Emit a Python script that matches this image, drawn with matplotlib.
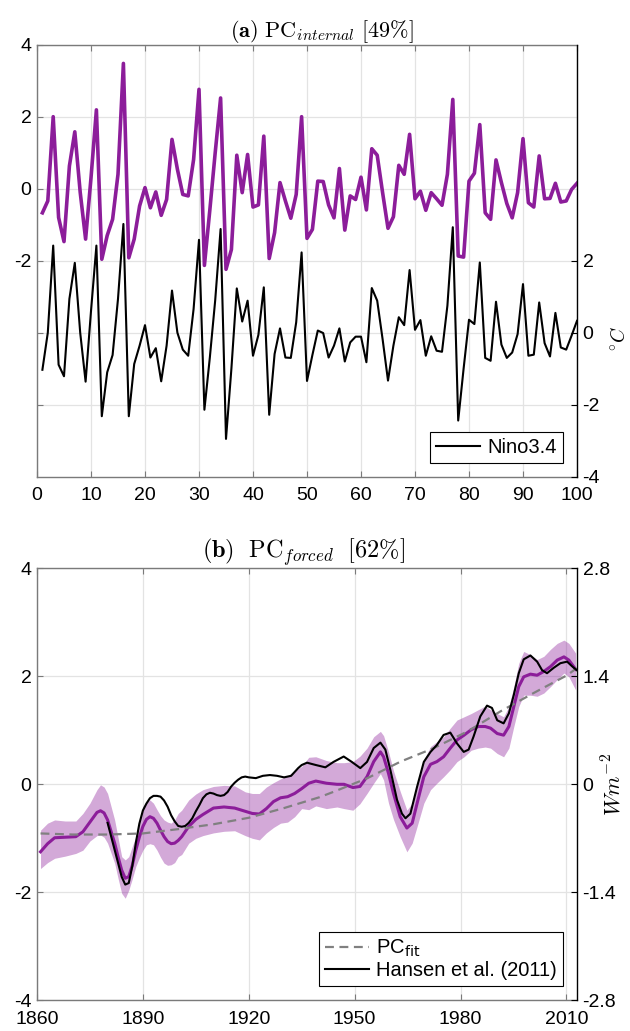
import matplotlib
matplotlib.use("Agg")
import matplotlib.pyplot as plt
from matplotlib.font_manager import FontProperties
import numpy as np

plt.rcParams['font.family'] = ['Liberation Sans', 'DejaVu Sans']
plt.rcParams['axes.unicode_minus'] = False

# ---------------- Panel (a) data ----------------
years_a = list(range(1, 101))
pc_internal = [-0.67, -0.34, 2.0, -0.8, -1.47, 0.63, 1.58, -0.1, -1.4, 0.3,
               2.19, -1.96, -1.3, -0.85, 0.4, 3.48, -1.92, -1.4, -0.48, 0.03,
               -0.53, -0.09, -0.74, -0.3, 1.37, 0.54, -0.16, -0.2, 0.81, 2.76,
               -2.13, -0.6, 1.0, 2.52, -2.24, -1.69, 0.93, -0.11, 0.95, -0.51,
               -0.45, 1.46, -1.94, -1.22, 0.17, -0.34, -0.82, -0.16, 2.0, -1.38,
               -1.13, 0.21, 0.2, -0.45, -0.81, 0.56, -1.15, -0.2, -0.3, 0.32,
               -0.59, 1.11, 0.93, -0.11, -1.1, -0.78, 0.65, 0.4, 1.51, -0.28,
               -0.07, -0.6, -0.11, -0.28, -0.46, 0.4, 2.48, -1.87, -1.9, 0.21,
               0.43, 1.78, -0.67, -0.85, 0.8, 0.17, -0.41, -0.81, -0.11, 1.39,
               -0.39, -0.51, 0.91, -0.28, -0.27, 0.15, -0.37, -0.34, -0.02, 0.15]
nino34 = [-1.03, 0.0, 2.42, -0.89, -1.21, 0.94, 1.94, 0.0, -1.36, 0.6,
          2.42, -2.32, -1.1, -0.62, 0.94, 3.02, -2.32, -0.87, -0.36, 0.21,
          -0.69, -0.43, -1.35, -0.36, 1.17, 0.0, -0.47, -0.64, 0.66, 2.58,
          -2.14, -0.7, 0.9, 2.88, -2.95, -1.0, 1.23, 0.31, 0.89, -0.64,
          -0.06, 1.26, -2.28, -0.59, 0.12, -0.69, -0.7, 0.29, 2.23, -1.34,
          -0.62, 0.06, -0.01, -0.69, -0.36, 0.12, -0.8, -0.27, -0.11, -0.11,
          -0.82, 1.24, 0.89, -0.18, -1.33, -0.36, 0.43, 0.21, 1.74, 0.08,
          0.35, -0.64, -0.1, -0.5, -0.53, 0.75, 2.93, -2.44, -1.0, 0.36,
          0.24, 1.95, -0.7, -0.78, 0.86, -0.33, -0.7, -0.55, -0.04, 1.35,
          -0.64, -0.61, 0.84, -0.29, -0.66, 0.55, -0.41, -0.47, -0.08, 0.33]
xticks_a = [0, 10, 20, 30, 40, 50, 60, 70, 80, 90, 100]
yticks_a_left = [-2, 0, 2, 4]
yticks_a_right = [-4, -2, 0, 2]

# ---------------- Panel (b) data ----------------
years_b = [1861, 1863, 1865, 1868, 1871, 1873, 1875, 1877, 1878, 1879,
           1880, 1882, 1883, 1884, 1885, 1886, 1887, 1888, 1889, 1890,
           1891, 1892, 1893, 1894, 1895, 1896, 1897, 1898, 1899, 1900,
           1901, 1903, 1905, 1907, 1910, 1913, 1916, 1919, 1921, 1923,
           1925, 1927, 1929, 1931, 1933, 1935, 1937, 1939, 1942, 1945,
           1947, 1949.5, 1951.5, 1953.5, 1955.4, 1957.3, 1958.2, 1959.6, 1961, 1962.9,
           1964.8, 1966.3, 1967.7, 1969.6, 1971.5, 1973.3, 1975.2, 1977.1, 1979, 1981,
           1983, 1985, 1987, 1988.5, 1990.4, 1992.2, 1993.7, 1995.1, 1996.5, 1997.9,
           1999.8, 2001.7, 2003.6, 2005.5, 2007.4, 2009.3, 2010.7, 2012.6]
pc_forced = [-1.25, -1.1, -0.99, -0.98, -0.97, -0.88, -0.7, -0.52, -0.49, -0.53,
             -0.66, -1.09, -1.35, -1.59, -1.74, -1.71, -1.5, -1.22, -0.98, -0.78,
             -0.65, -0.6, -0.63, -0.72, -0.85, -0.97, -1.06, -1.1, -1.09, -1.04,
             -0.97, -0.78, -0.65, -0.56, -0.44, -0.42, -0.44, -0.5, -0.54, -0.55,
             -0.45, -0.32, -0.25, -0.23, -0.17, -0.08, 0.02, 0.06, 0.02, 0.0,
             0.0, -0.06, -0.04, 0.14, 0.42, 0.6, 0.51, 0.2, -0.17, -0.6,
             -0.81, -0.72, -0.35, 0.14, 0.37, 0.42, 0.51, 0.67, 0.82, 0.91,
             1.01, 1.07, 1.07, 1.04, 0.94, 0.91, 1.07, 1.44, 1.81, 1.99,
             2.04, 2.02, 2.09, 2.18, 2.3, 2.36, 2.3, 2.13]
pc_upper = [-0.85, -0.72, -0.66, -0.68, -0.68, -0.54, -0.35, -0.1, -0.01, -0.05,
            -0.17, -0.66, -1.0, -1.34, -1.4, -1.34, -1.15, -0.97, -0.7, -0.41,
            -0.33, -0.29, -0.35, -0.47, -0.58, -0.66, -0.7, -0.72, -0.66, -0.54,
            -0.48, -0.29, -0.18, -0.1, -0.04, -0.02, -0.03, -0.14, -0.17, -0.17,
            -0.05, 0.03, 0.1, 0.16, 0.25, 0.33, 0.5, 0.51, 0.44, 0.4,
            0.4, 0.42, 0.52, 0.67, 0.88, 0.98, 0.9, 0.6, 0.25, -0.13,
            -0.48, -0.35, 0.02, 0.45, 0.7, 0.79, 0.88, 1.04, 1.19, 1.25,
            1.31, 1.38, 1.45, 1.38, 1.31, 1.25, 1.44, 1.81, 2.24, 2.46,
            2.4, 2.31, 2.37, 2.5, 2.61, 2.67, 2.61, 2.43]
pc_lower = [-1.56, -1.45, -1.37, -1.33, -1.28, -1.22, -1.05, -0.95, -0.94, -0.98,
            -1.09, -1.46, -1.75, -2.02, -2.11, -1.96, -1.75, -1.52, -1.36, -1.22,
            -1.12, -1.1, -1.12, -1.22, -1.35, -1.46, -1.5, -1.49, -1.45, -1.34,
            -1.3, -1.09, -1.0, -0.95, -0.9, -0.87, -0.86, -0.95, -1.0, -1.03,
            -0.9, -0.8, -0.72, -0.7, -0.6, -0.45, -0.47, -0.4, -0.45, -0.42,
            -0.45, -0.48, -0.36, -0.17, 0.02, 0.2, 0.08, -0.35, -0.65, -0.97,
            -1.25, -1.09, -0.78, -0.35, -0.1, 0.02, 0.14, 0.27, 0.42, 0.51,
            0.63, 0.67, 0.69, 0.67, 0.57, 0.51, 0.67, 1.07, 1.44, 1.65,
            1.65, 1.63, 1.69, 1.81, 1.94, 2.06, 1.99, 1.75]

years_fit = [1861, 1870, 1880, 1890, 1900, 1910, 1920, 1925, 1930, 1935,
             1940, 1944, 1953.5, 1963, 1972.4, 1982, 1991.3, 2000.7, 2010.2, 2012.9]
pc_fit = [-0.91, -0.93, -0.93, -0.91, -0.83, -0.74, -0.62, -0.53, -0.44, -0.34,
          -0.24, -0.14, 0.11, 0.42, 0.67, 0.98, 1.35, 1.69, 2.02, 2.15]

years_hansen = [1880, 1882, 1884, 1885, 1886, 1887, 1888, 1889, 1890, 1891,
                1892, 1893, 1894, 1895, 1896, 1897, 1898, 1899, 1900, 1901,
                1902, 1903, 1904, 1905, 1906, 1907, 1908, 1909, 1910, 1911,
                1912, 1913, 1914, 1915, 1916, 1917, 1918, 1919, 1920, 1922,
                1924, 1926, 1928, 1930, 1932, 1934, 1935, 1936.5, 1939, 1941.7,
                1944, 1946.9, 1949.2, 1951.6, 1953.5, 1955.4, 1957.3, 1958.7, 1960.1, 1962,
                1963.4, 1964.4, 1965.8, 1967.7, 1969.6, 1971.5, 1973.3, 1975.2, 1977.1, 1979,
                1980.9, 1982.3, 1983.7, 1985.6, 1987.5, 1988.9, 1990.4, 1992.2, 1993.7, 1995.1,
                1996.5, 1997.9, 1999.8, 2001.7, 2003.1, 2004.5, 2006.4, 2008.3, 2010.2, 2011.6,
                2012.9]
hansen_forcing = [-0.50, -0.85, -1.20, -1.30, -1.28, -1.06, -0.76, -0.51, -0.34, -0.25,
                  -0.18, -0.15, -0.15, -0.16, -0.21, -0.29, -0.40, -0.48, -0.54, -0.55,
                  -0.54, -0.50, -0.44, -0.35, -0.27, -0.18, -0.13, -0.11, -0.12, -0.14,
                  -0.15, -0.14, -0.10, -0.03, 0.02, 0.06, 0.09, 0.10, 0.09, 0.08,
                  0.11, 0.12, 0.11, 0.09, 0.11, 0.21, 0.25, 0.28, 0.25, 0.22,
                  0.29, 0.36, 0.29, 0.21, 0.29, 0.47, 0.54, 0.45, 0.19, -0.20,
                  -0.38, -0.44, -0.38, -0.03, 0.29, 0.42, 0.51, 0.64, 0.67, 0.53,
                  0.42, 0.45, 0.62, 0.88, 1.02, 0.99, 0.83, 0.79, 0.92, 1.16,
                  1.44, 1.62, 1.67, 1.59, 1.48, 1.44, 1.51, 1.57, 1.59, 1.53,
                  1.48]
xticks_b = [1860, 1890, 1920, 1950, 1980, 2010]
yticks_b_left = [-4, -2, 0, 2, 4]
yticks_b_right = [-2.8, -1.4, 0, 1.4, 2.8]

# ---------------- Style ----------------
PURPLE = '#8C1D9A'
SPINE_GRAY = '#7a7a7a'
TICK_FS = 14
W, H = 630, 1031

fig = plt.figure(figsize=(W / 100, H / 100), dpi=100)


def style_axes(ax, axr):
    for sp in ['left', 'top', 'bottom']:
        ax.spines[sp].set_color(SPINE_GRAY)
        ax.spines[sp].set_linewidth(1.0)
    ax.spines['right'].set_visible(False)
    for sp in ['left', 'top', 'bottom']:
        axr.spines[sp].set_visible(False)
    axr.spines['right'].set_color('black')
    axr.spines['right'].set_linewidth(1.0)
    ax.tick_params(axis='both', direction='in', length=4, width=0.8,
                   labelsize=TICK_FS, colors=SPINE_GRAY, labelcolor='black',
                   top=True, pad=4)
    ax.tick_params(axis='x', pad=7.5)
    axr.tick_params(axis='y', direction='in', length=4, width=0.8,
                    labelsize=TICK_FS, colors='black', pad=4)
    ax.grid(True, color='#e3e3e3', linewidth=0.9)
    ax.set_axisbelow(True)


title_a_fp = FontProperties(family='DejaVu Serif', size=16, math_fontfamily='cm')
title_b_fp = FontProperties(family='DejaVu Serif', size=17.5, math_fontfamily='cm')
label_c_fp = FontProperties(family='DejaVu Serif', size=14, math_fontfamily='cm')
label_w_fp = FontProperties(family='DejaVu Serif', size=16, math_fontfamily='cm')
leg_fp = FontProperties(family=['Liberation Sans', 'DejaVu Sans'], size=14.5,
                        math_fontfamily='dejavusans')

# ---------------- Panel (a) ----------------
ax1 = fig.add_axes([37 / W, (H - 476.7) / H, 540 / W, 432 / H])
ax1.plot(years_a, pc_internal, color=PURPLE, lw=2.6, zorder=3)
ax1.set_xlim(0, 100)
ax1.set_ylim(-8, 4)
ax1.set_xticks(xticks_a)
ax1.set_yticks([-6, -4] + yticks_a_left)
ax1.set_yticklabels(['', ''] + [str(v) for v in yticks_a_left])
axr1 = ax1.twinx()
axr1.plot(years_a, nino34, color='black', lw=1.5, label='Nino3.4')
axr1.set_ylim(-4, 8)
axr1.set_yticks(yticks_a_right)
axr1.set_yticklabels([str(v) for v in yticks_a_right])
style_axes(ax1, axr1)
ax1.set_title(r'$\mathbf{(a)}\ \mathrm{PC}_{internal}\ [49\%]$', fontproperties=title_a_fp,
              pad=5, x=0.528)
axr1.set_ylabel(r'$^{\circ}C$', fontproperties=label_c_fp, rotation=90)
axr1.yaxis.set_label_coords(1.062, 0.32)
leg1 = axr1.legend(loc='lower right', prop=leg_fp, fancybox=False, framealpha=1,
                   edgecolor='black', borderaxespad=0.7, handlelength=2.2,
                   borderpad=0.3, handletextpad=0.35)
leg1.get_frame().set_linewidth(0.8)

# ---------------- Panel (b) ----------------
ax2 = fig.add_axes([37 / W, (H - 1000.3) / H, 540 / W, 432 / H])
ax2.fill_between(years_b, pc_lower, pc_upper, color=PURPLE, alpha=0.38, lw=0, zorder=2)
ax2.plot(years_b, pc_forced, color=PURPLE, lw=2.2, zorder=3)
fit_line, = ax2.plot(years_fit, pc_fit, color='#808080', lw=1.6, ls=(0, (4, 2.5)), zorder=4,
                     label=r'PC$_{\mathrm{fit}}$')
ax2.set_xlim(1860, 2013)
ax2.set_ylim(-4, 4)
ax2.set_xticks(xticks_b)
ax2.set_yticks(yticks_b_left)
ax2.set_yticklabels([str(v) for v in yticks_b_left])
axr2 = ax2.twinx()
h_line, = axr2.plot(years_hansen, hansen_forcing, color='black', lw=1.5,
                    label='Hansen et al. (2011)')
axr2.set_ylim(-2.8, 2.8)
axr2.set_yticks(yticks_b_right)
axr2.set_yticklabels(['-2.8', '-1.4', '0', '1.4', '2.8'])
style_axes(ax2, axr2)
ax2.set_title(r'$\mathbf{(b)}\ \ \mathrm{PC}_{forced}\ \ [62\%]$', fontproperties=title_b_fp,
              pad=5, x=0.494)
axr2.set_ylabel(r'$W m^{-2}$', fontproperties=label_w_fp, rotation=90)
axr2.yaxis.set_label_coords(1.046, 0.5)
leg2 = axr2.legend(handles=[fit_line, h_line], loc='lower right', prop=leg_fp,
                   fancybox=False, framealpha=1, edgecolor='black', borderaxespad=0.7,
                   handlelength=2.2, borderpad=0.3, handletextpad=0.35, labelspacing=0.1)
leg2.get_frame().set_linewidth(0.8)

fig.savefig('out.png', dpi=100)
